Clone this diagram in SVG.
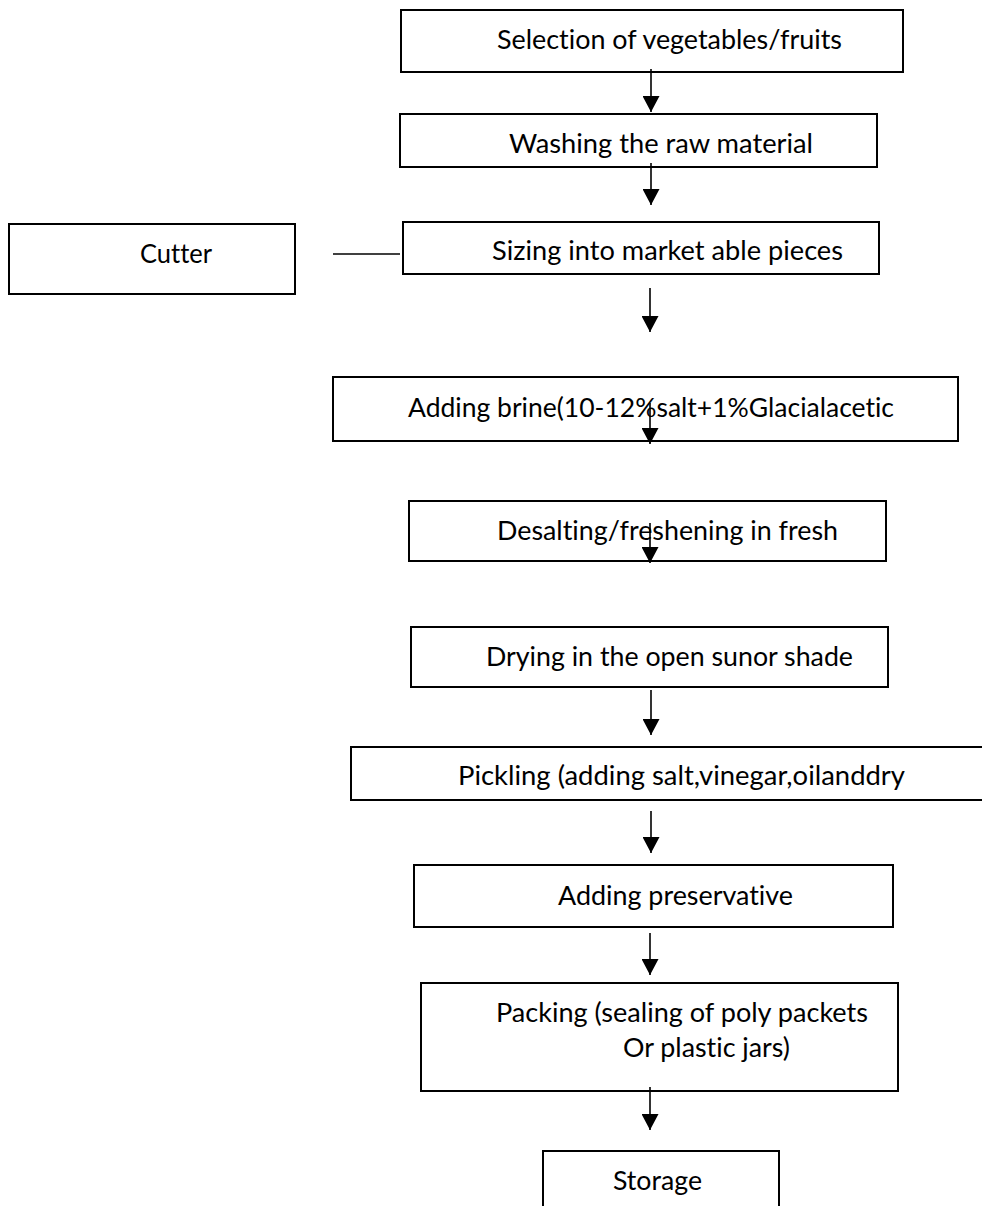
<svg xmlns="http://www.w3.org/2000/svg" width="982" height="1206" viewBox="0 0 982 1206">
<style>
.box{fill:#fff;stroke:#000;stroke-width:2}
.t{font-family:Lato,"Open Sans","Liberation Sans",sans-serif;font-size:26.5px;fill:#000;font-variant-ligatures:none;font-feature-settings:"liga" 0,"clig" 0}
.c{stroke:#000;stroke-width:1.6;fill:none}
</style>
<defs>
<marker id="ah" markerUnits="userSpaceOnUse" markerWidth="17" markerHeight="17" viewBox="0 0 16 16" refX="15" refY="8" orient="auto">
<path d="M0,0 L15,8 L0,16 Z" fill="#000"/>
</marker>
</defs>
<rect width="982" height="1206" fill="#fff"/>
<g id="n1"><rect class="box" x="401" y="10" width="502" height="62"/><text class="t" x="497" y="49" textLength="345" lengthAdjust="spacingAndGlyphs">Selection of vegetables/fruits</text></g>
<g id="n2"><rect class="box" x="400" y="114" width="477" height="53"/><text class="t" x="509" y="153" textLength="304" lengthAdjust="spacingAndGlyphs">Washing the raw material</text></g>
<g id="n3"><rect class="box" x="403" y="222" width="476" height="52"/><text class="t" x="492" y="260" textLength="351" lengthAdjust="spacingAndGlyphs">Sizing into market able pieces</text></g>
<g id="cutter"><rect class="box" x="9" y="224" width="286" height="70"/><text class="t" x="140" y="263" textLength="72" lengthAdjust="spacingAndGlyphs">Cutter</text></g>
<g id="n4"><rect class="box" x="333" y="377" width="625" height="64"/><text class="t" x="408" y="417" textLength="486" lengthAdjust="spacingAndGlyphs">Adding brine(10-12%salt+1%Glacialacetic</text></g>
<g id="n5"><rect class="box" x="409" y="501" width="477" height="60"/><text class="t" x="497" y="540" textLength="341" lengthAdjust="spacingAndGlyphs">Desalting/freshening in fresh</text></g>
<g id="n6"><rect class="box" x="411" y="627" width="477" height="60"/><text class="t" x="486" y="666" textLength="367" lengthAdjust="spacingAndGlyphs">Drying in the open sunor shade</text></g>
<g id="n7"><rect class="box" x="351" y="747" width="640" height="53"/><text class="t" x="458" y="785" textLength="447" lengthAdjust="spacingAndGlyphs">Pickling (adding salt,vinegar,oilanddry</text></g>
<g id="n8"><rect class="box" x="414" y="865" width="479" height="62"/><text class="t" x="558" y="905" textLength="235" lengthAdjust="spacingAndGlyphs">Adding preservative</text></g>
<g id="n9"><rect class="box" x="421" y="983" width="477" height="108"/><text class="t" x="496" y="1022" textLength="372" lengthAdjust="spacingAndGlyphs">Packing (sealing of poly packets</text><text class="t" x="623" y="1057" textLength="167" lengthAdjust="spacingAndGlyphs">Or plastic jars)</text></g>
<g id="n10"><rect class="box" x="543" y="1151" width="236" height="70"/><text class="t" x="613" y="1190" textLength="89" lengthAdjust="spacingAndGlyphs">Storage</text></g>
<g id="connectors">
<line class="c" x1="651" y1="69" x2="651" y2="112" marker-end="url(#ah)"/>
<line class="c" x1="651" y1="163" x2="651" y2="205" marker-end="url(#ah)"/>
<line class="c" x1="650" y1="288" x2="650" y2="332" marker-end="url(#ah)"/>
<line class="c" x1="650" y1="403" x2="650" y2="444" marker-end="url(#ah)"/>
<line class="c" x1="650" y1="523" x2="650" y2="563" marker-end="url(#ah)"/>
<line class="c" x1="651" y1="690" x2="651" y2="735" marker-end="url(#ah)"/>
<line class="c" x1="651" y1="811" x2="651" y2="853" marker-end="url(#ah)"/>
<line class="c" x1="650" y1="933" x2="650" y2="975" marker-end="url(#ah)"/>
<line class="c" x1="650" y1="1087" x2="650" y2="1130" marker-end="url(#ah)"/>
<line class="c" x1="333" y1="254" x2="400" y2="254"/>
</g>
</svg>
